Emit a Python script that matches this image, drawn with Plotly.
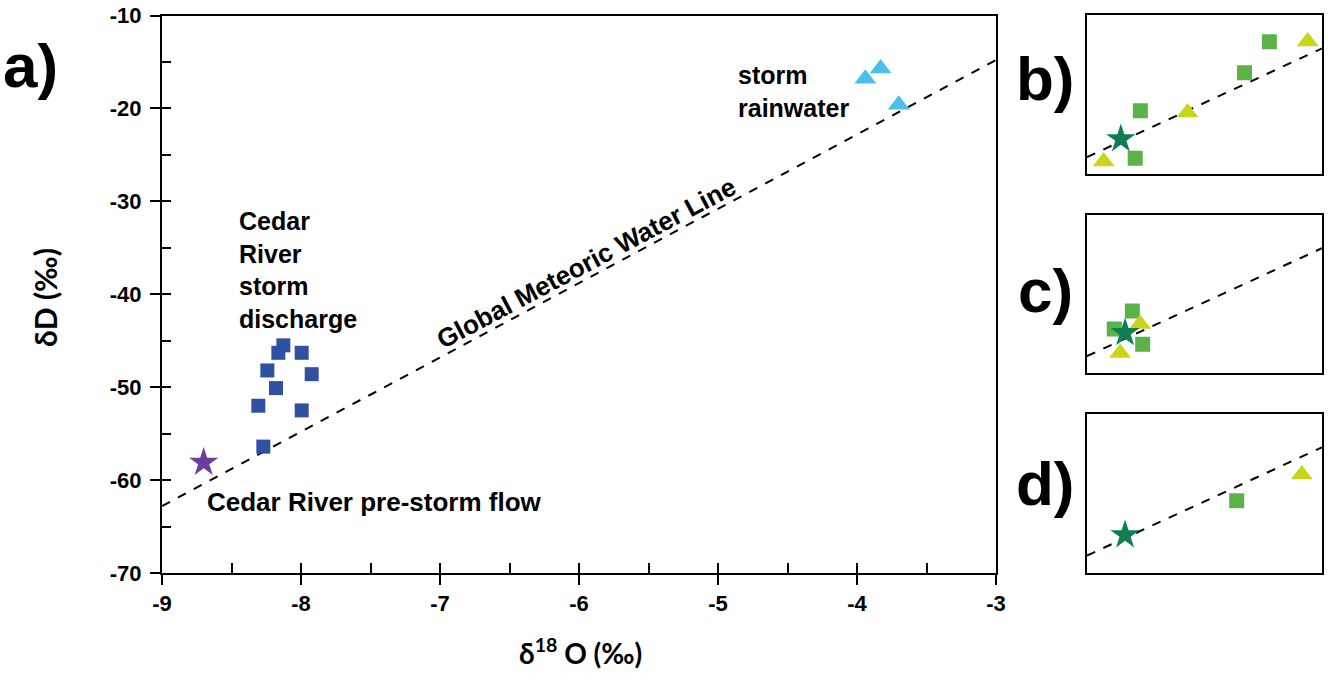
import plotly.graph_objects as go

# ---------------- data: panel a) ----------------
rain_d18o = [-3.94, -3.83, -3.70]
rain_dD = [-16.8, -15.7, -19.6]

storm_d18o = [-8.127, -8.163, -7.995, -8.242, -7.923, -8.180, -8.307, -7.995, -8.271]
storm_dD = [-45.5, -46.3, -46.3, -48.2, -48.6, -50.1, -52.0, -52.5, -56.4]

pre_d18o = [-8.70]
pre_dD = [-58.1]

gmwl_x = [-9.0, -3.0]
gmwl_y = [-62.8, -14.8]

x_ticks = [-9, -8, -7, -6, -5, -4, -3]
x_ticktext = ["-9", "-8", "-7", "-6", "-5", "-4", "-3"]
y_ticks = [-10, -20, -30, -40, -50, -60, -70]
y_ticktext = ["-10", "-20", "-30", "-40", "-50", "-60", "-70"]
x_minor = [-9, -8.5, -8, -7.5, -7, -6.5, -6, -5.5, -5, -4.5, -4, -3.5, -3]
y_minor = [-10, -15, -20, -25, -30, -35, -40, -45, -50, -55, -60, -65, -70]

# ---------------- data: insets b), c), d) (relative units) ----------------
inset_line_x = [0, 10]
inset_line_y = [1.08, 7.90]

b_sq_x = [2.05, 2.27, 6.70, 7.76]
b_sq_y = [1.00, 3.99, 6.38, 8.32]
b_tri_x = [0.71, 4.28, 9.39]
b_tri_y = [0.80, 3.88, 8.33]
b_star_x = [1.44]
b_star_y = [2.22]

c_sq_x = [1.16, 1.93, 2.37]
c_sq_y = [2.80, 3.94, 1.83]
c_tri_x = [2.26, 1.41]
c_tri_y = [3.12, 1.29]
c_star_x = [1.62]
c_star_y = [2.56]

d_sq_x = [6.37]
d_sq_y = [4.54]
d_tri_x = [9.14]
d_tri_y = [6.19]
d_star_x = [1.62]
d_star_y = [2.38]

# ---------------- style ----------------
FONT = "Liberation Sans, Arial, sans-serif"
TITLE_FONT = "Lato, Open Sans, sans-serif"
C_STORM = "#3050A2"
C_RAIN = "#4BBFEA"
C_PRE = "#6A3E9E"
C_SQ = "#5BB347"
C_TRI = "#C9D41B"
C_STAR = "#0F7F52"

fig = go.Figure()

fig.add_trace(go.Scatter(x=gmwl_x, y=gmwl_y, mode="lines",
                         line=dict(color="black", width=2, dash="dash"),
                         xaxis="x", yaxis="y", hoverinfo="skip"))
fig.add_trace(go.Scatter(x=storm_d18o, y=storm_dD, mode="markers",
                         marker=dict(symbol="square", size=14, color=C_STORM, line=dict(width=0)),
                         xaxis="x", yaxis="y"))
fig.add_trace(go.Scatter(x=rain_d18o, y=rain_dD, mode="markers",
                         marker=dict(symbol="triangle-up", size=19, color=C_RAIN, line=dict(width=0)),
                         xaxis="x", yaxis="y"))
fig.add_trace(go.Scatter(x=pre_d18o, y=pre_dD, mode="markers",
                         marker=dict(symbol="star", size=22, color=C_PRE, line=dict(width=0)),
                         xaxis="x", yaxis="y"))
fig.add_trace(go.Scatter(x=gmwl_x, y=gmwl_y, mode="lines", line=dict(width=0),
                         opacity=0, xaxis="x2", yaxis="y2", hoverinfo="skip"))

insets = [
    ("x3", "y3", b_sq_x, b_sq_y, b_tri_x, b_tri_y, b_star_x, b_star_y),
    ("x4", "y4", c_sq_x, c_sq_y, c_tri_x, c_tri_y, c_star_x, c_star_y),
    ("x5", "y5", d_sq_x, d_sq_y, d_tri_x, d_tri_y, d_star_x, d_star_y),
]
for xa, ya, sx, sy, tx, ty, stx, sty in insets:
    fig.add_trace(go.Scatter(x=inset_line_x, y=inset_line_y, mode="lines",
                             line=dict(color="black", width=2, dash="dash"),
                             xaxis=xa, yaxis=ya, hoverinfo="skip"))
    fig.add_trace(go.Scatter(x=sx, y=sy, mode="markers",
                             marker=dict(symbol="square", size=15, color=C_SQ, line=dict(width=0)),
                             xaxis=xa, yaxis=ya))
    fig.add_trace(go.Scatter(x=tx, y=ty, mode="markers",
                             marker=dict(symbol="triangle-up", size=19, color=C_TRI, line=dict(width=0)),
                             xaxis=xa, yaxis=ya))
    fig.add_trace(go.Scatter(x=stx, y=sty, mode="markers",
                             marker=dict(symbol="star", size=22, color=C_STAR, line=dict(width=0)),
                             xaxis=xa, yaxis=ya))

XD = [162 / 1328, 996 / 1328]
YD = [1 - 573 / 673, 1 - 15.5 / 673]
tickfont = dict(family=FONT, size=22, color="black", weight="bold")

layout = dict(
    template="none",
    width=1328, height=673,
    margin=dict(l=0, r=0, t=0, b=0, pad=0),
    paper_bgcolor="white", plot_bgcolor="white",
    showlegend=False,
    xaxis=dict(domain=XD, range=[-9, -3], anchor="y", automargin=False,
               tickvals=x_ticks, ticktext=x_ticktext, ticks="outside", ticklen=10,
               tickwidth=2, tickcolor="black", tickfont=tickfont, ticklabelstandoff=0,
               showline=True, linecolor="black", linewidth=2, mirror=True,
               showgrid=False, zeroline=False),
    yaxis=dict(domain=YD, range=[-70, -10], anchor="x", automargin=False,
               tickvals=y_ticks, ticktext=y_ticktext, ticks="outside", ticklen=10,
               tickwidth=2, tickcolor="black", tickfont=tickfont, ticklabelstandoff=4,
               showline=True, linecolor="black", linewidth=2, mirror=True,
               showgrid=False, zeroline=False),
    xaxis2=dict(domain=XD, range=[-9, -3], anchor="y2", overlaying="x", automargin=False,
                tickvals=x_minor, ticks="inside", ticklen=10, tickwidth=2, tickcolor="black",
                showticklabels=False, showline=False, showgrid=False, zeroline=False),
    yaxis2=dict(domain=YD, range=[-70, -10], anchor="x2", overlaying="y", automargin=False,
                tickvals=y_minor, ticks="inside", ticklen=9, tickwidth=2, tickcolor="black",
                showticklabels=False, showline=False, showgrid=False, zeroline=False),
)

IX = [1087 / 1328, 1322 / 1328]
inset_domains = [
    [1 - 174.3 / 673, 1 - 15 / 673],
    [1 - 373.3 / 673, 1 - 215 / 673],
    [1 - 572.7 / 673, 1 - 414 / 673],
]
for i, dom in enumerate(inset_domains):
    n = i + 3
    layout[f"xaxis{n}"] = dict(domain=IX, range=[0, 10], anchor=f"y{n}", automargin=False,
                               showticklabels=False, ticks="", showgrid=False, zeroline=False,
                               showline=True, linecolor="black", linewidth=2, mirror=True)
    layout[f"yaxis{n}"] = dict(domain=dom, range=[0, 10], anchor=f"x{n}", automargin=False,
                               showticklabels=False, ticks="", showgrid=False, zeroline=False,
                               showline=True, linecolor="black", linewidth=2, mirror=True)

fig.update_layout(**layout)

ann_font = dict(family=FONT, size=26, color="black", weight="bold")
annotations = [
    dict(text="storm<br>rainwater", x=-4.87, y=-18.2, xref="x", yref="y",
         xanchor="left", yanchor="middle", align="left", showarrow=False,
         font=dict(family=FONT, size=25, color="black", weight="bold")),
    dict(text="Cedar<br>River<br>storm<br>discharge", x=-8.46, y=-37.4, xref="x", yref="y",
         xanchor="left", yanchor="middle", align="left", showarrow=False,
         font=dict(family=FONT, size=25, color="black", weight="bold")),
    dict(text="Cedar River pre-storm flow", x=-8.69, y=-62.4, xref="x", yref="y",
         xanchor="left", yanchor="middle", align="left", showarrow=False, font=ann_font),
    dict(text="Global Meteoric Water Line", x=-5.95, y=-36.6, xref="x", yref="y",
         xanchor="center", yanchor="middle", textangle=-28, showarrow=False,
         font=dict(family=FONT, size=26, color="black", weight="bold")),
    dict(text="a)", x=30 / 1328, y=1 - 65 / 673, xref="paper", yref="paper",
         xanchor="center", yanchor="middle", showarrow=False,
         font=dict(family=FONT, size=62, color="black", weight="bold")),
    dict(text="δD (‰)", x=45 / 1328, y=1 - 298 / 673, xref="paper", yref="paper",
         xanchor="center", yanchor="middle", textangle=-90, showarrow=False,
         font=dict(family=TITLE_FONT, size=30, color="black", weight="bold")),
    dict(text="δ<sup>18</sup> O (‰)", x=580 / 1328, y=1 - 651 / 673, xref="paper", yref="paper",
         xanchor="center", yanchor="middle", showarrow=False,
         font=dict(family=TITLE_FONT, size=28, color="black", weight="bold")),
]
for lab, yc in [("b)", 78), ("c)", 290), ("d)", 483)]:
    annotations.append(dict(text=lab, x=1045 / 1328, y=1 - yc / 673, xref="paper", yref="paper",
                            xanchor="center", yanchor="middle", showarrow=False,
                            font=dict(family=FONT, size=62, color="black", weight="bold")))
fig.update_layout(annotations=annotations)

fig.write_html("out.html", config={"displayModeBar": False},
               post_script="document.body.style.margin='0px';document.body.style.padding='0px';")
